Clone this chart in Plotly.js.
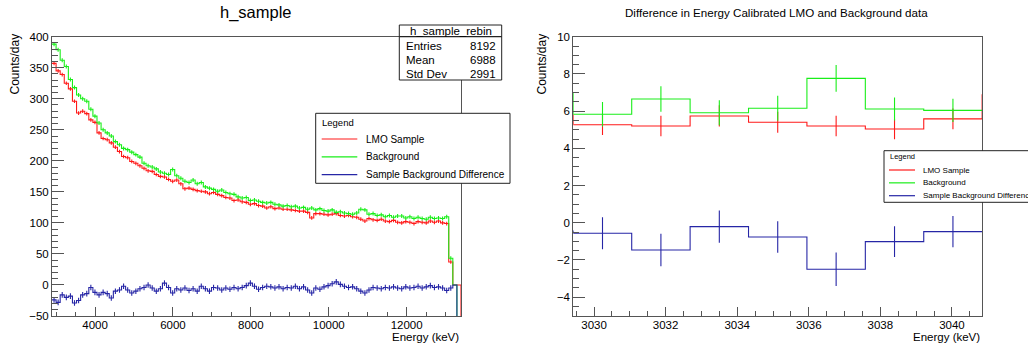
<!DOCTYPE html>
<html>
<head>
<meta charset="utf-8">
<script src="https://cdn.plot.ly/plotly-3.0.1.min.js"></script>
<style>html,body{margin:0;padding:0;background:#fff;}#chart{width:1028px;height:344px;}</style>
</head>
<body>
<div id="chart"></div>
<script>
// ---------------- DATA ----------------
// Left panel: rebinned spectra (bin width in keV, first bin low edge)
const leftBinLow = 2895;
const leftBinWidth = 105;
const leftLMO = [357,345,339,325,316,296,277,280,276,266,262,245,236,234,229,222,215,207,205,199,
  196,192,188,184,183,178,175,174,170,167,169,163,155,156,154,152,151,150,147,149,
  146,144,141,140,136,137,134,133,130,131,128,127,124,126,123,124,122,122,121,120,
  119,119,117,108,115,115,114,113,114,115,112,111,112,110,109,106,103,107,105,104,
  106,103,102,104,101,100,102,101,99,102,101,100,103,101,103,100,99,37,0,0];
const leftBackground = [388,379,362,352,331,318,306,300,296,283,272,261,250,245,240,231,226,220,218,214,
  210,206,196,192,190,187,182,180,178,186,176,172,167,165,169,163,165,158,156,154,
  151,153,149,147,146,142,140,141,136,137,135,133,132,133,130,129,127,128,126,127,
  124,125,122,124,121,123,120,119,121,117,118,116,115,114,116,122,121,114,115,112,
  113,110,112,109,111,111,108,110,107,109,107,106,109,107,108,107,110,43,0];
const leftDifference = [-24,-28,-16,-20,-18,-29,-25,-16,-14,-4,-12,-16,-12,-14,-21,-10,-8,-2,-8,-13,
  -10,-6,-4,0,-5,-10,-6,3,-4,-13,-6,-8,-5,-9,-6,-10,-2,-6,-10,-4,
  -5,-8,-5,-7,-4,-6,-4,-1,3,-2,-7,-4,-2,-3,-5,-3,-6,-4,-5,-2,
  -6,-3,-8,-13,-5,-7,-3,-1,2,5,1,-2,-4,-3,-6,-10,-13,-8,-4,-5,
  -6,-4,-5,-3,-5,-6,-3,-5,-4,-2,-5,-3,-1,-4,-3,-5,-9,-5,0];
const leftErrLMO = 3.0, leftErrBackground = 3.2, leftErrDifference = 4.5;
const leftXRange = [2895, 13395];
const leftYRange = [-50, 400];

// Right panel: zoom on 3029-3041 keV
const rightBinLow = 3029.42;
const rightBinWidth = 1.632;
const rightLMO        = [5.27, 5.20, 5.74, 5.40, 5.20, 5.04, 5.58];
const rightBackground = [5.83, 6.65, 5.91, 6.15, 7.76, 6.11, 6.04];
const rightDifference = [-0.57, -1.47, -0.21, -0.77, -2.50, -1.02, -0.48];
const rightErrLMO        = [0.55, 0.55, 0.57, 0.56, 0.55, 0.55, 0.56];
const rightErrBackground = [0.66, 0.69, 0.67, 0.67, 0.72, 0.62, 0.62];
const rightErrDifference = [0.86, 0.87, 0.87, 0.85, 0.90, 0.83, 0.84];
// neighbouring bins just outside the displayed range [previous, next]
const rightLMOOuter        = [5.80, 6.90];
const rightBackgroundOuter = [6.96, 6.04];
const rightDifferenceOuter = [-0.45, -0.48];
const rightXRange = [3029.42, 3040.84];
const rightYRange = [-5, 10];

const seriesNames = ['LMO Sample', 'Background', 'Sample Background Difference'];
const stats = {title: 'h_sample_rebin', labels: ['Entries', 'Mean', 'Std Dev'], values: ['8192', '6988', '2991']};

// ---------------- STYLE ----------------
const COL = ['#ff1a1a', '#1aee1a', '#2626a6'];
const FONT = 'Liberation Sans, Arial, Helvetica, sans-serif';
const W = 1028, H = 344;
const fx = p => p / W, fy = p => 1 - p / H;

function stepClosed(values, low, width, yClose) {
  const x = [], y = [];
  values.forEach((v, i) => { x.push(low + i * width); y.push(v); });
  const end = low + values.length * width;
  x.push(end); y.push(values[values.length - 1]);
  x.push(end); y.push(yClose);
  return {x, y};
}
function stepOuter(values, low, width, outer) {
  const x = [low - width], y = [outer[0]];
  values.forEach((v, i) => { x.push(low + i * width); y.push(v); });
  x.push(low + values.length * width); y.push(outer[1]);
  return {x, y};
}
function centers(values, low, width) { return values.map((v, i) => low + (i + 0.5) * width); }

const traces = [];
function addSeries(k, step, cx, cy, err, xa, ya) {
  traces.push({x: step.x, y: step.y, type: 'scatter', mode: 'lines', line: {shape: 'hv', color: COL[k], width: 1.1},
    xaxis: xa, yaxis: ya, hoverinfo: 'skip', showlegend: false});
  const e = Array.isArray(err) ? {type: 'data', array: err, visible: true} : {type: 'constant', value: err, visible: true};
  traces.push({x: cx, y: cy, type: 'scatter', mode: 'markers', marker: {size: 1, color: 'rgba(0,0,0,0)'},
    error_y: Object.assign(e, {color: COL[k], thickness: 1.1, width: 0}),
    xaxis: xa, yaxis: ya, hoverinfo: 'skip', showlegend: false, cliponaxis: true});
}
const leftSets = [[leftLMO, leftErrLMO], [leftBackground, leftErrBackground], [leftDifference, leftErrDifference]];
leftSets.forEach(([vals, err], k) => {
  const data = vals.slice(0, 98);
  addSeries(k, stepClosed(vals, leftBinLow, leftBinWidth, leftYRange[0] - 5),
    centers(data, leftBinLow, leftBinWidth), data, err, 'x', 'y');
});
const rightSets = [[rightLMO, rightErrLMO, rightLMOOuter], [rightBackground, rightErrBackground, rightBackgroundOuter],
  [rightDifference, rightErrDifference, rightDifferenceOuter]];
rightSets.forEach(([vals, err, outer], k) => {
  addSeries(k, stepOuter(vals, rightBinLow, rightBinWidth, outer),
    centers(vals, rightBinLow, rightBinWidth), vals, err, 'x2', 'y2');
});

function axis(domain, range, dtick, tick0, mdtick, len, anchor, isX) {
  const a = {domain, range, dtick, tick0, anchor, ticks: 'inside', ticklen: len, tickwidth: 1, tickcolor: '#555',
    showline: true, mirror: true, linecolor: '#555', linewidth: 1, showgrid: false, zeroline: false,
    tickformat: 'd', separatethousands: false,
    tickfont: {family: FONT, size: 11.5, color: '#000'},
    minor: {dtick: mdtick, tick0, ticks: 'inside', ticklen: len / 2, tickcolor: '#555', tickwidth: 1, showgrid: false}};
  if (isX) a.ticklabelstandoff = -2;
  return a;
}

const layout = {
  width: W, height: H, margin: {l: 0, r: 0, t: 0, b: 0},
  paper_bgcolor: '#fff', plot_bgcolor: '#fff', showlegend: false,
  font: {family: FONT, color: '#000'},
  xaxis: axis([fx(52), fx(461)], leftXRange, 2000, 0, 500, 9, 'y', true),
  yaxis: axis([fy(316), fy(36.7)], leftYRange, 50, 0, 10, 12, 'x', false),
  xaxis2: axis([fx(573.3), fx(982)], rightXRange, 2, 3030, 0.5, 9, 'y2', true),
  yaxis2: axis([fy(315.7), fy(36.7)], rightYRange, 2, 0, 0.5, 12, 'x2', false),
  shapes: [], annotations: []
};
const A = (text, x, y, o) => layout.annotations.push(Object.assign({text, x: fx(x), y: fy(y), xref: 'paper', yref: 'paper',
  showarrow: false, xanchor: 'center', yanchor: 'middle', font: {family: FONT, size: 11.5, color: '#000'}}, o || {}));
const R = (x0, y0, x1, y1) => layout.shapes.push({type: 'rect', xref: 'paper', yref: 'paper', x0: fx(x0), x1: fx(x1), y0: fy(y0), y1: fy(y1),
  line: {color: '#222', width: 1}, fillcolor: '#fff', layer: 'above'});
const L = (x0, y0, x1, y1, c) => layout.shapes.push({type: 'line', xref: 'paper', yref: 'paper', x0: fx(x0), x1: fx(x1), y0: fy(y0), y1: fy(y1),
  line: {color: c, width: 1.2}, layer: 'above'});

// titles
A('h_sample', 256, 13, {font: {family: FONT, size: 16.5, color: '#000'}});
A('Difference in Energy Calibrated LMO and Background data', 776.5, 13, {font: {family: FONT, size: 11.6, color: '#000'}});
A('Counts/day', 14.5, 31.5, {textangle: -90, yanchor: 'top', font: {family: FONT, size: 12, color: '#000'}});
A('Counts/day', 541.5, 31.5, {textangle: -90, yanchor: 'top', font: {family: FONT, size: 12, color: '#000'}});
A('Energy (keV)', 461, 336.5, {xanchor: 'right', font: {family: FONT, size: 11.5, color: '#000'}});
A('Energy (keV)', 982, 336.5, {xanchor: 'right', font: {family: FONT, size: 11.5, color: '#000'}});

// stats box
R(399.3, 25, 501.7, 80);
L(399.3, 36.7, 501.7, 36.7, '#222');
A(stats.title, 450.5, 31, {font: {family: FONT, size: 11.5, color: '#000'}});
stats.labels.forEach((s, i) => {
  A(s, 404, 46 + i * 14, {xanchor: 'left'});
  A(stats.values[i], 497.5, 46 + i * 14, {xanchor: 'right'});
});

// left legend
R(315.7, 113.3, 510, 183.3);
A('Legend', 320, 122.7, {xanchor: 'left', font: {family: FONT, size: 9.5, color: '#000'}});
seriesNames.forEach((s, i) => {
  const y = 139 + i * 17.8;
  L(321.7, y, 357.3, y, COL[i]);
  A(s, 364.3, y, {xanchor: 'left', font: {family: FONT, size: 10, color: '#000'}});
});

// right legend
R(884, 150.7, 1040, 202.3);
A('Legend', 888.3, 157, {xanchor: 'left', font: {family: FONT, size: 7.5, color: '#000'}});
seriesNames.forEach((s, i) => {
  const y = 170 + i * 12.85;
  L(889, y, 915, y, COL[i]);
  A(s, 920.7, y, {xanchor: 'left', font: {family: FONT, size: 8, color: '#000'}});
});

Plotly.newPlot('chart', traces, layout, {staticPlot: true, displayModeBar: false});
</script>
</body>
</html>
